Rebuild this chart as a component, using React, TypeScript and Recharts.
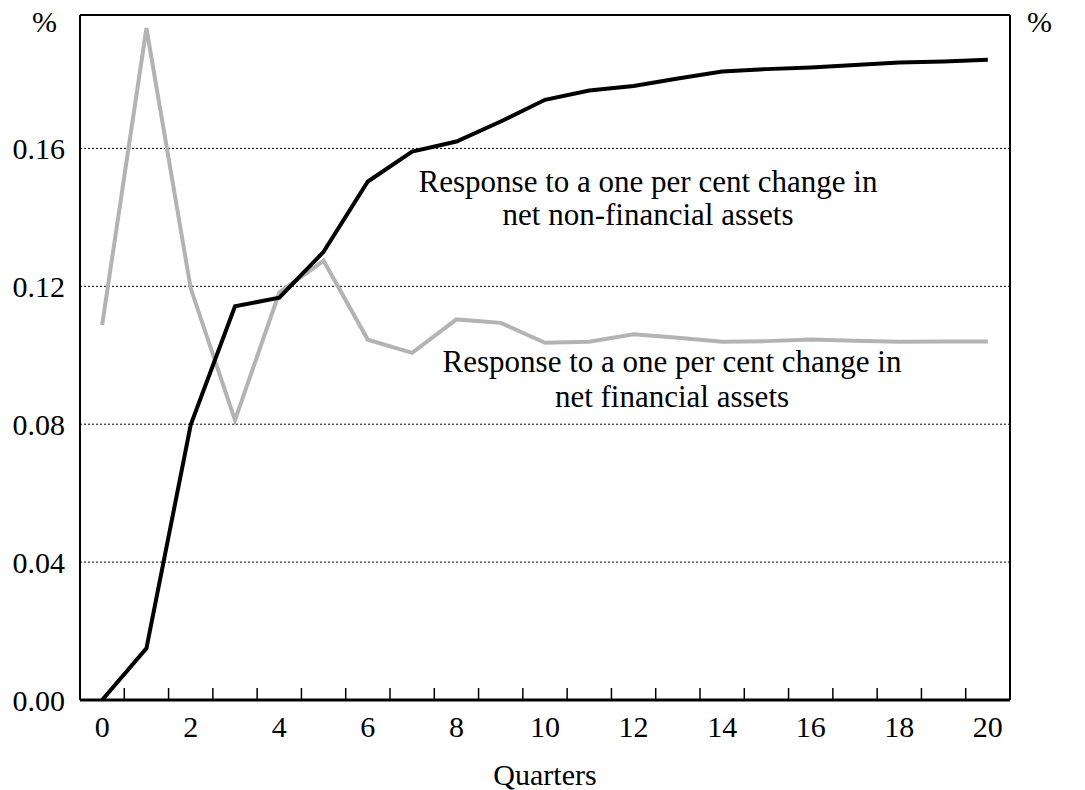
import { CartesianGrid, Line, LineChart, ReferenceLine, XAxis, YAxis } from "recharts";

const quarters = [0, 1, 2, 3, 4, 5, 6, 7, 8, 9, 10, 11, 12, 13, 14, 15, 16, 17, 18, 19, 20];
const nonFinancial = [
  0, 0.015, 0.0798, 0.1142, 0.1167, 0.13, 0.1504, 0.1591, 0.162, 0.1678, 0.1741,
  0.1768, 0.1781, 0.1803, 0.1823, 0.183, 0.1835, 0.1842, 0.1849, 0.1852, 0.1857,
];
const financial = [
  0.1088, 0.1949, 0.1194, 0.0812, 0.1182, 0.1274, 0.1045, 0.1007, 0.1104, 0.1094, 0.1036,
  0.1039, 0.1061, 0.1051, 0.1039, 0.1041, 0.1046, 0.1042, 0.1039, 0.104, 0.104,
];
const xLabels = [0, 2, 4, 6, 8, 10, 12, 14, 16, 18, 20];
const yTicks = [0, 0.04, 0.08, 0.12, 0.16];
const Y_MAX = 0.1987;

const data = quarters.map((q, i) => ({ q, nonFin: nonFinancial[i], fin: financial[i] }));
// integer ticks carry labels, half-way ticks carry the small marks between quarters
const xTicks = quarters.flatMap((q) => (q < 20 ? [q, q + 0.5] : [q]));

const FONT = "'Liberation Serif', 'Times New Roman', serif";

function QuarterTick(props: any) {
  const { x, y, payload } = props;
  const v = payload.value as number;
  if (!Number.isInteger(v)) {
    return <line x1={x} x2={x} y1={y} y2={y - 12} stroke="#000" strokeWidth={1.5} />;
  }
  if (!xLabels.includes(v)) return <g />;
  return (
    <text x={x} y={y + 37} textAnchor="middle" fontSize={30} fontFamily={FONT} fill="#000">
      {v}
    </text>
  );
}

const tickStyle = { fill: "#000", fontSize: 30, fontFamily: FONT };
const textProps = { fontSize: 30, fontFamily: FONT, fill: "#000", textAnchor: "middle" as const };
const noteProps = { ...textProps, fontSize: 31 };

export default function App() {
  return (
    <div style={{ position: "absolute", left: 0, top: 0, background: "#fff" }}>
      <LineChart width={1085} height={790} data={data} margin={{ top: 15, right: 0, bottom: 0, left: 0 }}>
        <CartesianGrid vertical={false} stroke="#000" strokeDasharray="2 2" strokeWidth={1} />
        <XAxis
          type="number"
          dataKey="q"
          domain={[-0.5, 20.5]}
          ticks={xTicks}
          interval={0}
          tickSize={0}
          tickMargin={0}
          tickLine={false}
          axisLine={{ stroke: "#000", strokeWidth: 3 }}
          height={90}
          tick={(p: any) => <QuarterTick {...p} />}
          label={{
            content: (p: any) => (
              <text
                x={p.viewBox.x + p.viewBox.width / 2}
                y={p.viewBox.y + 85}
                {...textProps}
              >
                Quarters
              </text>
            ),
          }}
        />
        <YAxis
          domain={[0, Y_MAX]}
          ticks={yTicks}
          width={80}
          tickSize={0}
          tickMargin={15}
          tickLine={false}
          axisLine={{ stroke: "#000", strokeWidth: 2 }}
          tick={tickStyle}
          tickFormatter={(v: number) => v.toFixed(2)}
        />
        <YAxis
          yAxisId="r"
          orientation="right"
          domain={[0, Y_MAX]}
          ticks={yTicks}
          width={75}
          tickSize={0}
          tickMargin={17}
          tickLine={false}
          axisLine={{ stroke: "#000", strokeWidth: 2 }}
          tick={tickStyle}
          tickFormatter={(v: number) => v.toFixed(2)}
        />
        <ReferenceLine y={Y_MAX} stroke="#000" strokeWidth={2} />
        <Line
          type="linear"
          dataKey="fin"
          stroke="#b3b3b3"
          strokeWidth={4}
          dot={false}
          activeDot={false}
          isAnimationActive={false}
        />
        <Line
          type="linear"
          dataKey="nonFin"
          stroke="#000"
          strokeWidth={4}
          dot={false}
          activeDot={false}
          isAnimationActive={false}
        />
        <text x={57} y={32} {...textProps} textAnchor="end">%</text>
        <text x={1027} y={32} {...textProps} textAnchor="start">%</text>
        <text x={648} y={192} {...noteProps}>Response to a one per cent change in</text>
        <text x={648} y={225} {...noteProps}>net non-financial assets</text>
        <text x={672} y={372} {...noteProps}>Response to a one per cent change in</text>
        <text x={672} y={407} {...noteProps}>net financial assets</text>
      </LineChart>
    </div>
  );
}
